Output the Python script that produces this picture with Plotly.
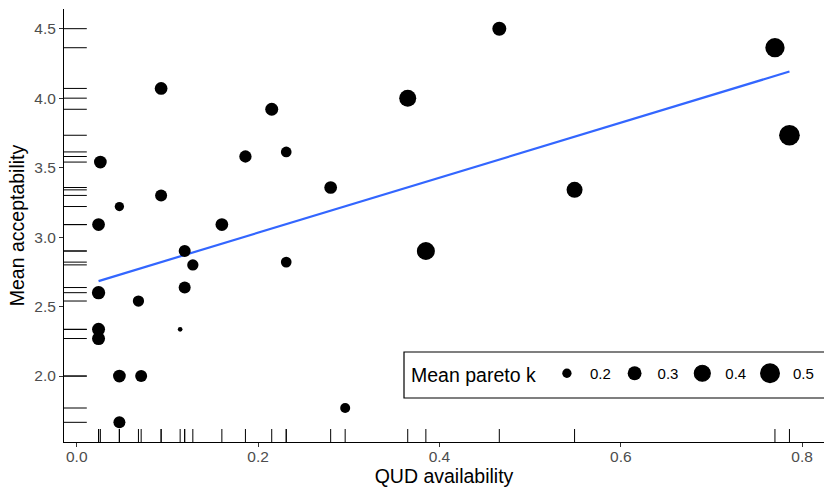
import numpy as np
import plotly.graph_objects as go

# ---- data ----
qud_availability = [0.466, 0.770, 0.093, 0.365, 0.215, 0.786, 0.231, 0.186, 0.026, 0.280,
                    0.549, 0.093, 0.047, 0.024, 0.160, 0.119, 0.385, 0.128, 0.231, 0.024,
                    0.119, 0.068, 0.114, 0.024, 0.024, 0.047, 0.071, 0.047, 0.296]
mean_acceptability = [4.50, 4.363, 4.07, 4.00, 3.92, 3.733, 3.613, 3.58, 3.54, 3.357,
                      3.34, 3.30, 3.22, 3.09, 3.09, 2.90, 2.90, 2.80, 2.82, 2.60,
                      2.637, 2.54, 2.336, 2.336, 2.27, 2.0, 2.0, 1.667, 1.77]
mean_pareto_k = [0.305, 0.474, 0.272, 0.394, 0.279, 0.527, 0.227, 0.262, 0.272, 0.272,
                 0.362, 0.255, 0.200, 0.272, 0.272, 0.255, 0.427, 0.239, 0.227, 0.287,
                 0.255, 0.239, 0.138, 0.279, 0.279, 0.272, 0.255, 0.255, 0.213]
legend_k = [0.2, 0.3, 0.4, 0.5]
x_ticks = [0.0, 0.2, 0.4, 0.6, 0.8]
y_ticks = [2.0, 2.5, 3.0, 3.5, 4.0, 4.5]

x = np.array(qud_availability)
y = np.array(mean_acceptability)
k = np.array(mean_pareto_k)


def diam(v):
    # area-proportional size scale (like ggplot scale_size)
    return np.sqrt(np.maximum(1045.0 * np.asarray(v, dtype=float) - 122.5, 4.0))


def expand(a, f=0.05):
    lo, hi = float(np.min(a)), float(np.max(a))
    r = hi - lo
    return [lo - f * r, hi + f * r]


FONT = "Liberation Sans, Arial, Helvetica, sans-serif"
W, H = 824, 488
ML, MR, MT, MB = 64, 0, 9, 46
PW, PH = W - ML - MR, H - MT - MB


def px_x(p):  # pixel -> paper x
    return (p - ML) / PW


def px_y(p):  # pixel -> paper y
    return (H - MB - p) / PH


fig = go.Figure()

# linear fit
slope, intercept = np.polyfit(x, y, 1)
xf = np.array([x.min(), x.max()])
fig.add_trace(go.Scatter(x=xf, y=slope * xf + intercept, mode="lines",
                         line=dict(color="#3366FF", width=2.2), showlegend=False,
                         hoverinfo="skip"))

# points
fig.add_trace(go.Scatter(x=x, y=y, mode="markers",
                         marker=dict(size=diam(k), sizemode="diameter", color="black",
                                     opacity=1, line=dict(width=0)),
                         showlegend=False))

# legend keys (legend caps marker size at 16px, so extra size is carried by the outline)
for v in legend_k:
    d = float(diam(v))
    s = min(d, 16.0)
    fig.add_trace(go.Scatter(x=[None], y=[None], mode="markers",
                             marker=dict(size=s, color="black", opacity=1,
                                         line=dict(width=d - s, color="black")),
                             name=f"{v:.1f}", showlegend=True))

# rugs
shapes = []
for xv in x:
    shapes.append(dict(type="line", xref="x", yref="paper", x0=xv, x1=xv, y0=0, y1=0.03,
                       line=dict(color="black", width=1)))
for yv in y:
    shapes.append(dict(type="line", xref="paper", yref="y", x0=0, x1=0.03, y0=yv, y1=yv,
                       line=dict(color="black", width=1)))

# legend frame
shapes.append(dict(type="rect", xref="paper", yref="paper", layer="above",
                   x0=px_x(404), x1=px_x(830), y0=px_y(398), y1=px_y(352),
                   line=dict(color="black", width=1.2), fillcolor="white"))

fig.update_layout(
    width=W, height=H,
    margin=dict(l=ML, r=MR, t=MT, b=MB, autoexpand=False),
    paper_bgcolor="white", plot_bgcolor="white",
    font=dict(family=FONT, color="black", size=15),
    shapes=shapes,
    xaxis=dict(range=expand(x), tickvals=x_ticks, ticktext=[f"{t:.1f}" for t in x_ticks],
               ticks="outside", ticklen=4, tickwidth=1, tickcolor="#333333",
               showline=True, linecolor="black", linewidth=1,
               showgrid=False, zeroline=False, automargin=False,
               ticklabelstandoff=-4,
               tickfont=dict(size=15.5, color="#4D4D4D"),
               title=dict(text="QUD availability", font=dict(size=19.5, color="black"), standoff=3)),
    yaxis=dict(range=expand(y), tickvals=y_ticks, ticktext=[f"{t:.1f}" for t in y_ticks],
               ticks="outside", ticklen=4, tickwidth=1, tickcolor="#333333",
               showline=True, linecolor="black", linewidth=1,
               showgrid=False, zeroline=False, automargin=False,
               tickfont=dict(size=15.5, color="#4D4D4D"),
               title=dict(text="Mean acceptability", font=dict(size=19.5, color="black"), standoff=4)),
    legend=dict(orientation="h", x=px_x(409), xanchor="left", y=px_y(375), yanchor="middle",
                borderwidth=0, bgcolor="rgba(0,0,0,0)",
                title=dict(text="Mean pareto k", side="left", font=dict(size=19.5)),
                font=dict(size=15), itemsizing="trace", itemwidth=36,
                entrywidth=16.7, entrywidthmode="pixels"),
)

fig.write_html("out.html", config={"displayModeBar": False},
               post_script="document.body.style.margin='0';document.body.style.padding='0';")
